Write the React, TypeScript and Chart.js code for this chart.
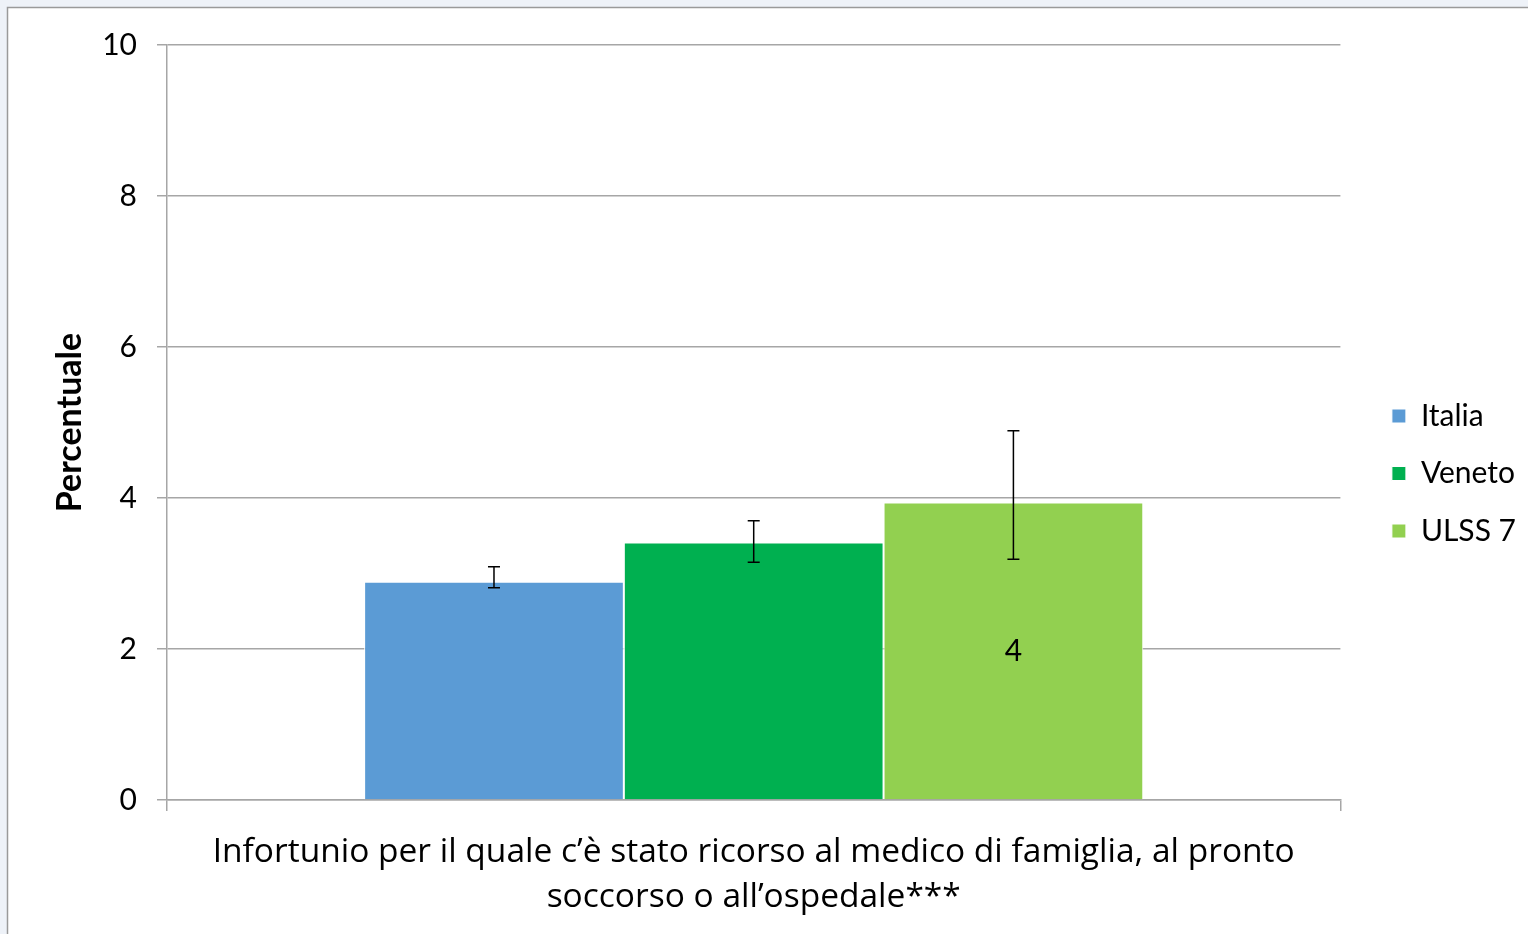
import React, { useEffect, useRef } from "react";
import { Chart, registerables } from "chart.js";

Chart.register(...registerables);

// ---- Data ----
const categories = [
  [
    "Infortunio per il quale c’è stato ricorso al medico di famiglia, al pronto",
    "soccorso o all’ospedale***",
  ],
];
const seriesNames = ["Italia", "Veneto", "ULSS 7"];
const seriesColors = ["#5B9BD5", "#00B050", "#92D050"];
const values = [2.89, 3.41, 3.94];
const errorLow = [2.81, 3.15, 3.19];
const errorHigh = [3.09, 3.7, 4.89];
const valueLabels: (string | null)[] = [null, null, "4"];
const yTicks = [0, 2, 4, 6, 8, 10];

const FONT = "Lato, 'Open Sans', sans-serif";
const CAT_FONT = "'Open Sans', Lato, sans-serif";
const GRID = "#a6a6a6";

const framePlugin = {
  id: "frame",
  beforeDraw(chart: any) {
    const { ctx, width, height } = chart;
    ctx.save();
    ctx.fillStyle = "#eef2f8";
    ctx.fillRect(0, 0, width, height);
    ctx.fillStyle = "#ffffff";
    ctx.fillRect(8, 8, width - 8, height - 8);
    ctx.strokeStyle = "#9a9a9a";
    ctx.lineWidth = 1.5;
    ctx.beginPath();
    ctx.moveTo(7.5, height);
    ctx.lineTo(7.5, 7.5);
    ctx.lineTo(width, 7.5);
    ctx.stroke();
    ctx.restore();
  },
};

const errorBarPlugin = {
  id: "errorBars",
  afterDatasetsDraw(chart: any) {
    const { ctx } = chart;
    const yScale = chart.scales.y;
    ctx.save();
    chart.data.datasets.forEach((_: any, i: number) => {
      const meta = chart.getDatasetMeta(i);
      const el = meta.data[0];
      if (!el) return;
      const x = el.x;
      const yl = yScale.getPixelForValue(errorLow[i]);
      const yh = yScale.getPixelForValue(errorHigh[i]);
      ctx.strokeStyle = "#000000";
      ctx.lineWidth = 1.5;
      ctx.beginPath();
      ctx.moveTo(x, yl);
      ctx.lineTo(x, yh);
      ctx.moveTo(x - 6, yl);
      ctx.lineTo(x + 6, yl);
      ctx.moveTo(x - 6, yh);
      ctx.lineTo(x + 6, yh);
      ctx.stroke();
      const lbl = valueLabels[i];
      if (lbl) {
        ctx.fillStyle = "#000000";
        ctx.font = `30px ${FONT}`;
        ctx.textAlign = "center";
        ctx.textBaseline = "middle";
        ctx.fillText(lbl, x, (el.y + el.base) / 2);
      }
    });
    ctx.restore();
  },
};

export default function App() {
  const ref = useRef<HTMLCanvasElement>(null);

  useEffect(() => {
    if (!ref.current) return;
    const chart = new Chart(ref.current, {
      type: "bar",
      data: {
        labels: categories as any,
        datasets: seriesNames.map((name, i) => ({
          label: name,
          data: [values[i]],
          backgroundColor: seriesColors[i],
          borderColor: "#ffffff",
          borderWidth: 1,
          barPercentage: 1.0,
          categoryPercentage: 0.664,
        })),
      },
      options: {
        animation: false,
        responsive: false,
        layout: { padding: { left: 50, top: 13, right: 2, bottom: 0 } },
        plugins: {
          tooltip: { enabled: false },
          legend: {
            position: "right",
            align: "center",
            labels: {
              boxWidth: 14,
              boxHeight: 14,
              padding: 27.5,
              color: "#000000",
              font: { family: FONT, size: 30 },
            },
          },
        },
        scales: {
          x: {
            grid: {
              display: true,
              drawOnChartArea: false,
              drawTicks: true,
              tickLength: 11,
              color: GRID,
              lineWidth: 1.5,
            },
            border: { display: true, color: GRID, width: 1.5 },
            ticks: {
              color: "#000000",
              font: { family: CAT_FONT, size: 33.5, lineHeight: "45px" },
              padding: 19,
              maxRotation: 0,
              autoSkip: false,
            },
            afterFit: (s: any) => {
              s.height = 134;
            },
          },
          y: {
            min: 0,
            max: 10,
            afterBuildTicks: (s: any) => {
              s.ticks = yTicks.map((v) => ({ value: v }));
            },
            grid: {
              color: GRID,
              lineWidth: 1.5,
              drawTicks: true,
              tickLength: 10,
            },
            border: { display: true, color: GRID, width: 1.5 },
            ticks: {
              color: "#000000",
              font: { family: FONT, size: 30 },
              padding: 20,
            },
            title: {
              display: true,
              text: "Percentuale",
              color: "#000000",
              font: { family: FONT, size: 34, weight: "bold" },
              padding: { top: 0, bottom: 0 },
            },
            afterFit: (s: any) => {
              s.width = 117;
            },
          },
          gapTop: {
            type: "linear",
            axis: "x",
            position: "top",
            display: true,
            grid: { display: false },
            border: { display: false },
            ticks: { display: false },
            afterFit: (s: any) => {
              s.height = 32;
            },
          },
          gap: {
            type: "linear",
            axis: "y",
            position: "right",
            display: true,
            grid: { display: false },
            border: { display: false },
            ticks: { display: false },
            afterFit: (s: any) => {
              s.width = 24;
            },
          },
        },
      },
      plugins: [framePlugin, errorBarPlugin],
    } as any);
    return () => chart.destroy();
  }, []);

  return (
    <div style={{ position: "absolute", left: 0, top: 0, width: 1528, height: 934 }}>
      <canvas ref={ref} width={1528} height={934} style={{ display: "block" }} />
    </div>
  );
}
